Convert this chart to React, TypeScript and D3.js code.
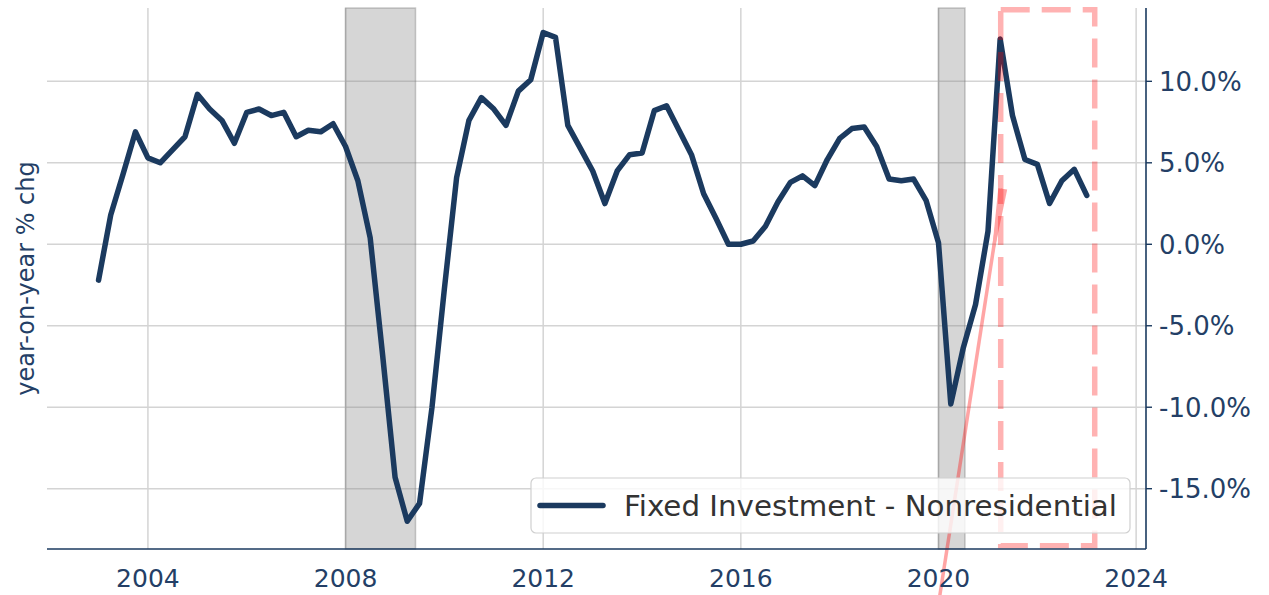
import React, { useEffect, useRef } from 'react';
import * as d3 from 'd3';

// quarterly yoy % change, one row per year (Q1..Q4)
const years = [2003, 2004, 2005, 2006, 2007, 2008, 2009, 2010, 2011, 2012, 2013, 2014, 2015, 2016, 2017, 2018, 2019, 2020, 2021, 2022, 2023];
const yoyByQuarter = [
  [-2.2, 1.8, 4.3, 6.9],
  [5.3, 5.0, 5.8, 6.6],
  [9.2, 8.3, 7.6, 6.2],
  [8.1, 8.3, 7.9, 8.1],
  [6.6, 7.0, 6.9, 7.4],
  [6.0, 3.9, 0.4, -6.8],
  [-14.3, -17.0, -15.9, -10.0],
  [-2.7, 4.1, 7.6, 9.0],
  [8.3, 7.3, 9.4, 10.1],
  [13.0, 12.7, 7.3, 5.9],
  [4.5, 2.5, 4.5, 5.5],
  [5.6, 8.2, 8.5, 7.0],
  [5.5, 3.1, 1.6, 0.0],
  [0.0, 0.2, 1.1, 2.6],
  [3.8, 4.2, 3.6, 5.2],
  [6.5, 7.1, 7.2, 6.0],
  [4.0, 3.9, 4.0, 2.7],
  [0.1, -9.8, -6.4, -3.7],
  [0.8, 12.6, 7.9, 5.2],
  [4.9, 2.5, 3.9, 4.6],
  [3.0],
];
const recessionStarts = ['2008-01-01', '2020-01-01'];
const recessionEnds = ['2009-06-01', '2020-07-15'];
const xTickYears = [2004, 2008, 2012, 2016, 2020, 2024];
const yTicks = [-15, -10, -5, 0, 5, 10];
const seriesName = 'Fixed Investment - Nonresidential';
const yLabel = 'year-on-year % chg';
// red highlight box and arrow
const boxDates = ['2021-04-05', '2023-03-01'];
const boxValues = [-18.5, 14.4];
const arrowDates = ['2020-01-10', '2021-04-20'];
const arrowValues = [-21.6, 3.4];

const NAVY = '#1b3a5f';
const TEXT = '#243f66';
const FONT = 'DejaVu Sans, sans-serif';

export default function App() {
  const ref = useRef<SVGSVGElement>(null);

  useEffect(() => {
    draw();
    // eslint-disable-next-line react-hooks/exhaustive-deps
  }, []);

  function draw() {
    const svg = d3.select(ref.current);
    svg.selectAll('*').remove();
    const width = 1269;
    const height = 595;
    const margin = { top: 8, right: 123, bottom: 46, left: 47 };
    const right = width - margin.right;
    const bottom = height - margin.bottom;
    const parse = d3.timeParse('%Y-%m-%d');

    const data: { date: Date; value: number }[] = [];
    years.forEach((yr, i) => {
      yoyByQuarter[i].forEach((v, q) => data.push({ date: new Date(yr, q * 3, 1), value: v }));
    });

    const x = d3.scaleTime().domain([new Date(2001, 11, 16), new Date(2024, 2, 14)]).range([margin.left, right]);
    const y = d3.scaleLinear().domain([-18.7, 14.5]).range([bottom, margin.top]);

    // grid
    const grid = svg.append('g').attr('stroke', '#d4d4d4').attr('stroke-width', 1.5);
    grid.selectAll('.gx')
      .data(xTickYears)
      .join('line')
      .attr('x1', (d) => x(new Date(d, 0, 1)))
      .attr('x2', (d) => x(new Date(d, 0, 1)))
      .attr('y1', margin.top)
      .attr('y2', bottom);
    grid.selectAll('.gy')
      .data(yTicks)
      .join('line')
      .attr('x1', margin.left)
      .attr('x2', right)
      .attr('y1', (d) => y(d))
      .attr('y2', (d) => y(d));

    // recession shading
    svg.append('g')
      .selectAll('rect')
      .data(recessionStarts.map((s, i) => [parse(s)!, parse(recessionEnds[i])!]))
      .join('rect')
      .attr('x', (d) => x(d[0]))
      .attr('width', (d) => x(d[1]) - x(d[0]))
      .attr('y', margin.top)
      .attr('height', bottom - margin.top)
      .attr('fill', 'rgba(128,128,128,0.32)')
      .attr('stroke', 'rgba(110,110,110,0.35)')
      .attr('stroke-width', 1.5);

    // series
    const line = d3.line<{ date: Date; value: number }>()
      .x((d) => x(d.date))
      .y((d) => y(d.value));
    svg.append('path')
      .datum(data)
      .attr('d', line)
      .attr('fill', 'none')
      .attr('stroke', NAVY)
      .attr('stroke-width', 5.5)
      .attr('stroke-linejoin', 'round')
      .attr('stroke-linecap', 'round');

    // highlight box
    const bx0 = x(parse(boxDates[0])!);
    const bx1 = x(parse(boxDates[1])!);
    const by0 = y(boxValues[1]);
    const by1 = y(boxValues[0]);
    svg.append('rect')
      .attr('x', bx0)
      .attr('y', by0)
      .attr('width', bx1 - bx0)
      .attr('height', by1 - by0)
      .attr('fill', 'none')
      .attr('stroke', 'rgba(255,0,0,0.3)')
      .attr('stroke-width', 5.5)
      .attr('stroke-dasharray', '29 12');

    // arrow
    const ax0 = x(parse(arrowDates[0])!);
    const ay0 = y(arrowValues[0]);
    const ax1 = x(parse(arrowDates[1])!);
    const ay1 = y(arrowValues[1]);
    const len = Math.hypot(ax1 - ax0, ay1 - ay0);
    const ux = (ax1 - ax0) / len;
    const uy = (ay1 - ay0) / len;
    const hw = 4.5;
    const hl = 85;
    const arrow = svg.append('g').attr('opacity', 0.35);
    arrow.append('line')
      .attr('x1', ax0)
      .attr('y1', ay0)
      .attr('x2', ax1)
      .attr('y2', ay1)
      .attr('stroke', 'red')
      .attr('stroke-width', 3.5);
    arrow.append('path')
      .attr('d', `M${ax1 + uy * hw},${ay1 - ux * hw}L${ax1 - uy * hw},${ay1 + ux * hw}L${ax1 - ux * hl},${ay1 - uy * hl}Z`)
      .attr('fill', 'red');

    // spines
    svg.append('line')
      .attr('x1', margin.left).attr('x2', right)
      .attr('y1', bottom).attr('y2', bottom)
      .attr('stroke', NAVY).attr('stroke-width', 1.6);
    svg.append('line')
      .attr('x1', right).attr('x2', right)
      .attr('y1', margin.top).attr('y2', bottom)
      .attr('stroke', NAVY).attr('stroke-width', 1.6);

    // y ticks on the right
    const yAxis = svg.append('g');
    yAxis.selectAll('line')
      .data(yTicks)
      .join('line')
      .attr('x1', right)
      .attr('x2', right + 6)
      .attr('y1', (d) => y(d))
      .attr('y2', (d) => y(d))
      .attr('stroke', NAVY)
      .attr('stroke-width', 1.4);
    yAxis.selectAll('text')
      .data(yTicks)
      .join('text')
      .attr('x', right + 13)
      .attr('y', (d) => y(d))
      .attr('dy', '0.36em')
      .attr('fill', TEXT)
      .attr('font-family', FONT)
      .attr('font-size', 26)
      .text((d) => d.toFixed(1) + '%');

    // x tick labels
    svg.append('g')
      .selectAll('text')
      .data(xTickYears)
      .join('text')
      .attr('x', (d) => x(new Date(d, 0, 1)))
      .attr('y', 578)
      .attr('dy', '0.36em')
      .attr('text-anchor', 'middle')
      .attr('fill', TEXT)
      .attr('font-family', FONT)
      .attr('font-size', 25)
      .text((d) => d);

    // y label
    svg.append('text')
      .attr('transform', `translate(25,${(margin.top + bottom) / 2}) rotate(-90)`)
      .attr('text-anchor', 'middle')
      .attr('dy', '0.36em')
      .attr('fill', TEXT)
      .attr('font-family', FONT)
      .attr('font-size', 24)
      .text(yLabel);

    // legend, lower right
    const lw = 599;
    const lh = 55;
    const lx = right - 16 - lw;
    const ly = bottom - 16 - lh;
    const legend = svg.append('g').attr('transform', `translate(${lx},${ly})`);
    legend.append('rect')
      .attr('width', lw)
      .attr('height', lh)
      .attr('rx', 5)
      .attr('fill', 'rgba(255,255,255,0.8)')
      .attr('stroke', '#d0d0d0')
      .attr('stroke-width', 1.2);
    legend.append('line')
      .attr('x1', 9).attr('x2', 72)
      .attr('y1', lh / 2).attr('y2', lh / 2)
      .attr('stroke', NAVY).attr('stroke-width', 5.5).attr('stroke-linecap', 'round');
    legend.append('text')
      .attr('x', 93)
      .attr('y', lh / 2)
      .attr('dy', '0.36em')
      .attr('fill', '#333')
      .attr('font-family', FONT)
      .attr('font-size', 29)
      .attr('textLength', 493)
      .attr('lengthAdjust', 'spacingAndGlyphs')
      .text(seriesName);
  }

  return (
    <div style={{ position: 'absolute', left: 0, top: 0 }}>
      <svg ref={ref} width={1269} height={595} style={{ display: 'block' }} />
    </div>
  );
}
